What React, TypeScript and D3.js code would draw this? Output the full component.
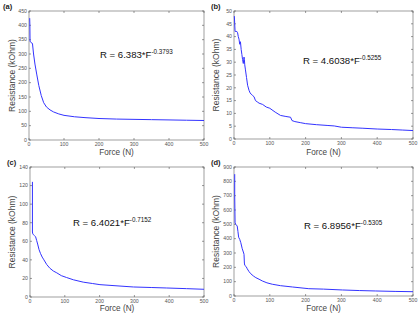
import React from "react";
import * as d3 from "d3";

// Panel (a)
const forceA = [2, 2.5, 3, 4, 6, 9, 10, 13, 17, 22, 28, 35, 42, 50, 60, 70, 85, 100, 130, 160, 200, 250, 300, 350, 400, 450, 500];
const resA = [425, 400, 345, 342, 340, 338, 335, 300, 265, 230, 190, 155, 130, 115, 105, 98, 91, 86, 81, 78, 75, 73, 72, 71, 70, 69, 68];
// Panel (b)
const forceB = [1, 2, 3, 5, 8, 10, 12, 14, 16, 18, 20, 22, 24, 26, 28, 29, 30, 32, 35, 38, 42, 45, 48, 52, 56, 60, 65, 70, 80, 90, 100, 115, 130, 145, 158, 162, 170, 185, 200, 230, 260, 280, 300, 330, 360, 400, 440, 470, 500];
const resB = [48, 45, 42, 42, 42, 41.5, 40, 39, 37, 38, 35, 33, 31, 29.5, 32, 31, 29, 27, 24, 21, 19, 18, 17.5, 17, 16.5, 15, 14.5, 14, 13.5, 12.5, 12, 10.5, 9.2, 8.8, 8.5, 7.2, 6.8, 6.4, 6, 5.6, 5.3, 5.1, 4.6, 4.4, 4.2, 3.9, 3.7, 3.5, 3.3];
// Panel (c)
const forceC = [7, 7, 8, 10, 13, 16, 19, 22, 26, 30, 35, 40, 48, 57, 67, 77, 90, 105, 125, 153, 180, 201, 250, 297, 350, 393, 450, 500];
const resC = [124, 70, 68, 67, 66, 65, 61, 57, 51, 47, 43, 40, 35, 31, 28, 26, 23, 21, 18.5, 16, 14.5, 13.3, 12, 10.8, 10.2, 9.7, 9, 8.3];
// Panel (d)
const forceD = [2, 2, 3, 5, 9, 11, 13, 16, 19, 23, 27, 28, 29, 30, 34, 37, 42, 47, 54, 61, 70, 79, 92, 107, 130, 163, 209, 250, 303, 350, 396, 450, 500];
const resD = [850, 700, 510, 500, 488, 450, 410, 395, 372, 330, 300, 290, 230, 214, 205, 190, 170, 155, 140, 128, 117, 105, 92, 82, 72, 63, 51, 48, 42, 38, 35, 32, 30];

const xTicks = [0, 100, 200, 300, 400, 500];
const yTicksA = [0, 50, 100, 150, 200, 250, 300, 350, 400, 450];
const yTicksB = [0, 5, 10, 15, 20, 25, 30, 35, 40, 45, 50];
const yTicksC = [0, 20, 40, 60, 80, 100, 120, 140];
const yTicksD = [0, 100, 200, 300, 400, 500, 600, 700, 800, 900];

const labels = ["(a)", "(b)", "(c)", "(d)"];
const coefs = ["R = 6.383*F", "R = 4.6038*F", "R = 6.4021*F", "R = 6.8956*F"];
const exps = ["-0.3793", "-0.5255", "-0.7152", "-0.5305"];

const FONT = "Arial, 'Liberation Sans', sans-serif";

type PanelProps = {
  box: { l: number; r: number; t: number; b: number };
  force: number[];
  res: number[];
  yTicks: number[];
  label: string;
  labelPos: [number, number];
  coef: string;
  exp: string;
  eqPos: [number, number];
  yLabelX: number;
  xLabelY: number;
};

function Panel(p: PanelProps) {
  const { l, r, t, b } = p.box;
  const x = d3.scaleLinear().domain([0, 500]).range([l, r]);
  const yMax = p.yTicks[p.yTicks.length - 1];
  const y = d3.scaleLinear().domain([0, yMax]).range([b, t]);
  const line = d3
    .line<number>()
    .x((_, i) => x(p.force[i]))
    .y((v) => y(v));
  const tl = 2;
  const tickColor = "#555";
  return (
    <g>
      <rect x={l} y={t} width={r - l} height={b - t} fill="white" stroke="#888" strokeWidth={0.8} />
      {xTicks.map((v) => (
        <g key={"x" + v}>
          <line x1={x(v)} x2={x(v)} y1={b} y2={b - tl} stroke={tickColor} strokeWidth={0.6} />
          <line x1={x(v)} x2={x(v)} y1={t} y2={t + tl} stroke={tickColor} strokeWidth={0.6} />
          <text x={x(v)} y={b + 5.8} fontSize={5.2} fill="#555" textAnchor="middle" fontFamily={FONT}>
            {v}
          </text>
        </g>
      ))}
      {p.yTicks.map((v) => (
        <g key={"y" + v}>
          <line x1={l} x2={l + tl} y1={y(v)} y2={y(v)} stroke={tickColor} strokeWidth={0.6} />
          <line x1={r} x2={r - tl} y1={y(v)} y2={y(v)} stroke={tickColor} strokeWidth={0.6} />
          <text x={l - 2} y={y(v) + 1.8} fontSize={5.2} fill="#555" textAnchor="end" fontFamily={FONT}>
            {v}
          </text>
        </g>
      ))}
      <path d={line(p.res) || ""} fill="none" stroke="#3333ff" strokeWidth={1} />
      <text
        x={p.labelPos[0]}
        y={p.labelPos[1]}
        fontSize={7.5}
        fontWeight="bold"
        fill="#222"
        fontFamily={FONT}
      >
        {p.label}
      </text>
      <text x={p.eqPos[0]} y={p.eqPos[1]} fontSize={9.6} fill="#111" fontFamily={FONT}>
        {p.coef}
        <tspan fontSize={6.3} dy={-4.2}>
          {p.exp}
        </tspan>
      </text>
      <text
        transform={`translate(${p.yLabelX},${(t + b) / 2}) rotate(-90)`}
        fontSize={8.5}
        fill="#444"
        textAnchor="middle"
        fontFamily={FONT}
      >
        Resistance (kOhm)
      </text>
      <text x={(l + r) / 2} y={p.xLabelY} fontSize={8.2} fill="#444" textAnchor="middle" fontFamily={FONT}>
        Force (N)
      </text>
    </g>
  );
}

export default function App() {
  return (
    <svg
      width={418}
      height={313}
      style={{ position: "absolute", left: 0, top: 0, background: "white" }}
    >
      <rect width={418} height={313} fill="white" />
      <Panel
        box={{ l: 29, r: 204, t: 11, b: 140 }}
        force={forceA}
        res={resA}
        yTicks={yTicksA}
        label={labels[0]}
        labelPos={[3, 9]}
        coef={coefs[0]}
        exp={exps[0]}
        eqPos={[100, 58]}
        yLabelX={15}
        xLabelY={155}
      />
      <Panel
        box={{ l: 234, r: 413, t: 11, b: 139 }}
        force={forceB}
        res={resB}
        yTicks={yTicksB}
        label={labels[1]}
        labelPos={[211, 9]}
        coef={coefs[1]}
        exp={exps[1]}
        eqPos={[303, 64]}
        yLabelX={219}
        xLabelY={155}
      />
      <Panel
        box={{ l: 30, r: 204, t: 167, b: 297 }}
        force={forceC}
        res={resC}
        yTicks={yTicksC}
        label={labels[2]}
        labelPos={[7, 165]}
        coef={coefs[2]}
        exp={exps[2]}
        eqPos={[73, 226]}
        yLabelX={15}
        xLabelY={310.5}
      />
      <Panel
        box={{ l: 234, r: 413, t: 167, b: 296 }}
        force={forceD}
        res={resD}
        yTicks={yTicksD}
        label={labels[3]}
        labelPos={[211, 165]}
        coef={coefs[3]}
        exp={exps[3]}
        eqPos={[304, 229]}
        yLabelX={219}
        xLabelY={310.5}
      />
    </svg>
  );
}
